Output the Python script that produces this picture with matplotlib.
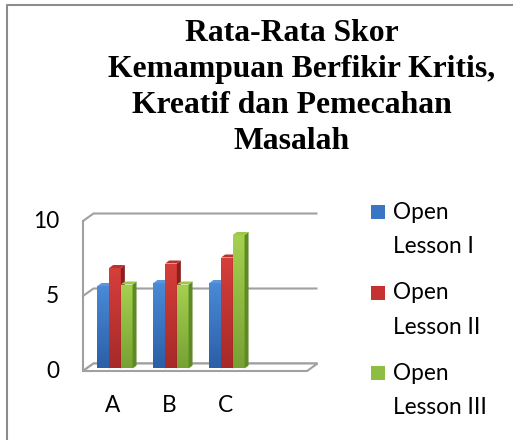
import matplotlib
matplotlib.use("Agg")
import matplotlib.pyplot as plt
import numpy as np
from matplotlib import transforms
from matplotlib.colors import LinearSegmentedColormap
from matplotlib.patches import Polygon, Rectangle

# data
categories = ["A", "B", "C", ""]      # the sheet range has an empty 4th row
series = ["Open\nLesson I", "Open\nLesson II", "Open\nLesson III"]
lesson_1 = [5.5, 5.7, 5.7]
lesson_2 = [6.7, 7.0, 7.4]
lesson_3 = [5.6, 5.6, 8.9]
yticks = [0, 5, 10]
title_lines = ["Rata-Rata Skor", "Kemampuan Berfikir Kritis,", "Kreatif dan Pemecahan", "Masalah"]

values = [lesson_1, lesson_2, lesson_3]
face_top = ["#4a8ad6", "#d63e3b", "#a5d04f"]
face_bot = ["#2b5fa7", "#a62a28", "#77a233"]
side_c = ["#24508c", "#8c1f1e", "#5e8a26"]
roof_c = ["#5b96dc", "#b83230", "#9cc84a"]
legend_c = ["#3a76c4", "#c4332f", "#8dbd42"]
wall_c = "#a0a0a0"

W, H = 513, 440
fig = plt.figure(figsize=(W / 100, H / 100), dpi=100)
px = transforms.Affine2D().scale(1, -1).translate(0, H)   # top-left pixel coords

# front plane of the 3d box: x 83..307 px, value 0 at y=371, 10 at y=221
ax = fig.add_axes([83 / W, (H - 371) / H, 224 / W, 150 / H])
ax.set_xlim(-0.5, len(categories) - 0.5)
ax.set_ylim(0, 10)
ax.axis("off")

ux = 224 / len(categories)
uy = 150 / 10
wdx, wdy = 10.5 / ux, 7.5 / uy      # wall depth
bdx, bdy = 4 / ux, 3 / uy           # bar depth
bar_w = 11.7 / ux
x0, x1 = -0.5, len(categories) - 0.5

# back wall gridlines + left wall diagonals
for t in yticks:
    ax.plot([x0, x0 + wdx, x1 + wdx], [t, t + wdy, t + wdy], color=wall_c,
            lw=1.5, clip_on=False, zorder=1, solid_capstyle="butt")
ax.plot([x0, x0], [0, 10], color=wall_c, lw=1.5, clip_on=False, zorder=1)
# floor
floor = Polygon([(x0, 0), (x1, 0), (x1 + wdx, wdy), (x0 + wdx, wdy)], closed=True,
                facecolor="white", edgecolor=wall_c, lw=1.5, clip_on=False, zorder=1.5)
ax.add_patch(floor)

bar_trans = transforms.offset_copy(ax.transData, fig=fig, x=4, y=2.5, units="dots")
x = np.arange(len(values[0]))
z = 3
for i in x:
    for j, vals in enumerate(values):
        h = vals[i]
        left = i - 1.5 * bar_w + j * bar_w
        right = left + bar_w
        cmap = LinearSegmentedColormap.from_list("g", [face_bot[j], face_top[j]])
        rect = Rectangle((left, 0), bar_w, h, transform=bar_trans, facecolor="none",
                         edgecolor="none", clip_on=False, zorder=z)
        ax.add_patch(rect)
        im = ax.imshow(np.linspace(0, 1, 64).reshape(-1, 1), cmap=cmap, origin="lower",
                       extent=[left, right, 0, h], transform=bar_trans, aspect="auto",
                       zorder=z, interpolation="bilinear")
        im.set_clip_path(rect)
        side = Polygon([(right, 0), (right + bdx, bdy), (right + bdx, h + bdy), (right, h)],
                       closed=True, transform=bar_trans, facecolor=side_c[j],
                       edgecolor="none", clip_on=False, zorder=z)
        roof = Polygon([(left, h), (right, h), (right + bdx, h + bdy), (left + bdx, h + bdy)],
                       closed=True, transform=bar_trans, facecolor=roof_c[j],
                       edgecolor="none", clip_on=False, zorder=z)
        ax.add_patch(side)
        ax.add_patch(roof)
        z += 1

ax.set_xlim(-0.5, len(categories) - 0.5)
ax.set_ylim(0, 10)
ax.set_aspect("auto")

lab_font = dict(family=["Lato", "DejaVu Sans"], fontsize=16.3, color="black")
tick_trans = transforms.offset_copy(ax.transData, fig=fig, x=-24, y=0, units="dots")
for t in yticks:
    ax.text(x0, t, str(t), transform=tick_trans, ha="right", va="center", **lab_font)
cat_trans = transforms.offset_copy(ax.transData, fig=fig, x=2, y=-34, units="dots")
for i, c in enumerate(categories):
    ax.text(i, 0, c, transform=cat_trans, ha="center", va="center", **lab_font)

# title, wrapped the way Excel wrapped it (2nd line sits a bit to the right)
title_x = [291.5, 302, 292, 291.5]
for k, line in enumerate(title_lines):
    fig.text(title_x[k], 41 + k * 36.1, line, transform=px, ha="center", va="baseline",
             family=["Liberation Serif", "DejaVu Serif"], fontweight="bold", fontsize=22.8)

# legend
for j, lab in enumerate(series):
    y = 205 + j * 80.5
    fig.patches.append(Rectangle((371, y), 14, 14, transform=px,
                                 facecolor=legend_c[j], edgecolor="none"))
    fig.text(393, y + 48.3, lab, transform=px, ha="left", va="baseline",
             linespacing=1.8, **lab_font)

# chart-area border (only the left and top edges are inside the picture)
fig.lines.append(plt.Line2D([7, 7, W], [H, 5, 5], transform=px, color="#8c8c8c", lw=1.5))

fig.savefig("out.png", dpi=100)
